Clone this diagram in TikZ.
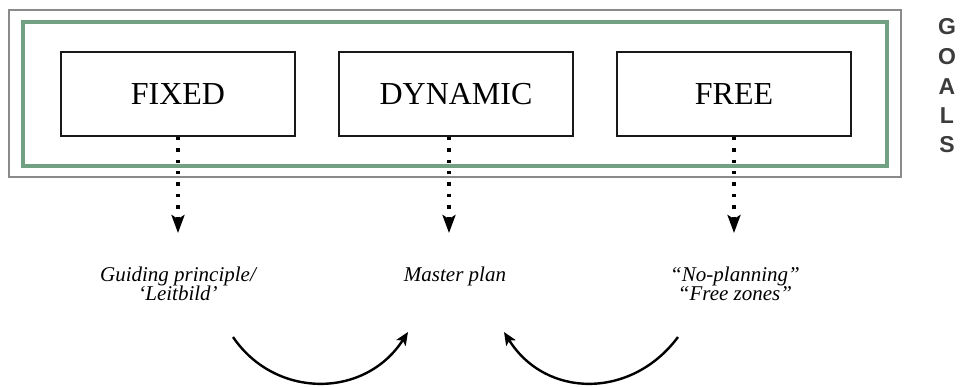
\documentclass[tikz,border=0pt]{standalone}
\usepackage{fontspec}
\setmainfont{Liberation Serif}
\newfontfamily\goalsfont{Liberation Sans}
\usetikzlibrary{arrows.meta}
\definecolor{framegray}{HTML}{8A8A8A}
\definecolor{framegreen}{HTML}{72A082}
\definecolor{goalgray}{HTML}{3C3C3C}
\tikzset{
  stage/.style={draw=black!90, line width=1.6pt, minimum width=234pt, minimum height=84pt,
    inner sep=0pt, font=\fontsize{32}{32}\selectfont},
  outcome/.style={align=center, font=\fontsize{21}{19.5}\selectfont\itshape, inner sep=0pt},
  flowdots/.style={line width=3.4pt, dash pattern=on 3.4pt off 8pt,
    -{Stealth[length=18pt,width=13pt,inset=4pt]}},
  loop/.style={line width=2.4pt, -{Stealth[length=13pt,width=11pt,inset=3pt]}},
  goalletter/.style={font=\goalsfont\bfseries\fontsize{23}{23}\selectfont, text=goalgray, inner sep=0pt}
}
\begin{document}
\begin{tikzpicture}[x=1pt,y=-1pt]
\useasboundingbox (0,0) rectangle (961,387);
% frames
\draw[framegray, line width=2pt] (9,10) rectangle (901,177);
\draw[framegreen, line width=3.2pt] (23,22) rectangle (887,166);
% the three planning modes
\node[stage] (fixed) at (178,94) {FIXED};
\node[stage] (dynamic) at (456,94) {DYNAMIC};
\node[stage] (free) at (734,94) {FREE};
% arrow ends
\coordinate (fixedTip) at (178,233);
\coordinate (dynamicTip) at (449,233);
\coordinate (freeTip) at (734,233);
\draw[flowdots] (fixed.south) -- (fixedTip);
\draw[flowdots] (dynamic.south -| dynamicTip) -- (dynamicTip);
\draw[flowdots] (free.south) -- (freeTip);
% outcomes (base anchor sits on the last line)
\node[outcome, anchor=base] (guiding) at (178,301) {Guiding principle/\\‘Leitbild’};
\node[outcome, anchor=base] (master) at (455,282) {Master plan};
\node[outcome, anchor=base] (noplan) at (735,301) {“No-planning”\\“Free zones”};
% feedback loops
\coordinate (loopAstart) at (233,337);
\coordinate (loopAend) at (408,332);
\coordinate (loopBstart) at (678,337);
\coordinate (loopBend) at (504,332);
\draw[loop] (loopAstart) .. controls (275,399) and (365,399) .. (loopAend);
\draw[loop] (loopBstart) .. controls (632,399) and (546,399) .. (loopBend);
% side caption
\node[goalletter] (g1) at (947,27) {G};
\node[goalletter] (g2) at (947,57) {O};
\node[goalletter] (g3) at (947,87) {A};
\node[goalletter] (g4) at (947,116) {L};
\node[goalletter] (g5) at (947,145) {S};
\end{tikzpicture}
\end{document}
